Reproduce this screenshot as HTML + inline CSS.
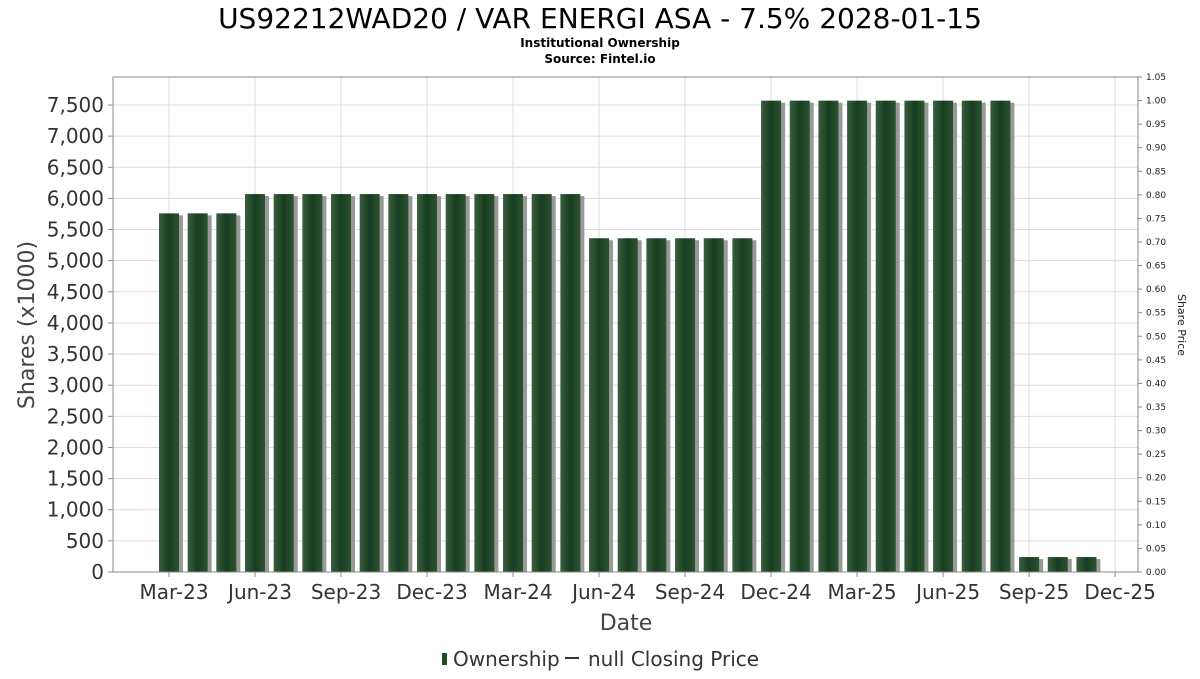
<!DOCTYPE html>
<html><head><meta charset="utf-8"><style>
body{margin:0;background:#fff;font-family:"DejaVu Sans","Liberation Sans",sans-serif}
</style></head><body>
<svg id="c" width="1200" height="675" xmlns="http://www.w3.org/2000/svg" font-family="DejaVu Sans, Liberation Sans, sans-serif">
<defs><linearGradient id="bg" x1="0" x2="1"><stop offset="0" stop-color="#3a5e3f"/><stop offset="0.5" stop-color="#163d1d"/><stop offset="1" stop-color="#2c5232"/></linearGradient></defs>
<text x="600" y="28" text-anchor="middle" font-size="28" fill="#000">US92212WAD20 / VAR ENERGI ASA - 7.5% 2028-01-15</text>
<text x="600" y="47" text-anchor="middle" font-size="12" font-weight="bold">Institutional Ownership</text>
<text x="600" y="63" text-anchor="middle" font-size="12" font-weight="bold">Source: Fintel.io</text>
<g id="grid"></g><g id="bars"></g><g id="axes"></g>
<text transform="translate(34,325) rotate(-90)" text-anchor="middle" font-size="22" fill="#444">Shares (x1000)</text>
<text transform="translate(1178,325) rotate(90)" text-anchor="middle" font-size="11" fill="#222">Share Price</text>
<text x="626" y="630" text-anchor="middle" font-size="22" fill="#444">Date</text>
<g>
<rect x="442" y="653" width="5" height="12" fill="#1e4a25"/>
<text x="453" y="666" font-size="20" fill="#333">Ownership</text>
<line x1="565" y1="658" x2="579" y2="658" stroke="#333" stroke-width="2"/>
<text x="588" y="666" font-size="20" fill="#333">null Closing Price</text>
</g>
</svg>
<script>
const monthIdx=[0,1,2,3,4,5,6,7,8,9,10,11,12,13,14,15,16,17,18,19,20,21,22,23,24,25,26,27,28,29,30,31,32];
const shares=[5760,5760,5760,6070,6070,6070,6070,6070,6070,6070,6070,6070,6070,6070,6070,5360,5360,5360,5360,5360,5360,7570,7570,7570,7570,7570,7570,7570,7570,7570,240,240,240];
const xTickLabels=["Mar-23","Jun-23","Sep-23","Dec-23","Mar-24","Jun-24","Sep-24","Dec-24","Mar-25","Jun-25","Sep-25","Dec-25"];
const yTicks=[0,500,1000,1500,2000,2500,3000,3500,4000,4500,5000,5500,6000,6500,7000,7500];
const rTicks=[0,0.05,0.1,0.15,0.2,0.25,0.3,0.35,0.4,0.45,0.5,0.55,0.6,0.65,0.7,0.75,0.8,0.85,0.9,0.95,1.0,1.05];
const L=113,R=1138,T=77,B=572,yMax=7950;
const x=m=>169+m*28.67, y=v=>B-(v/yMax)*(B-T), yr=p=>B-(p/1.05)*(B-T);
const NS="http://www.w3.org/2000/svg";
function mk(t,a,p){const e=document.createElementNS(NS,t);for(const k in a)e.setAttribute(k,a[k]);p.appendChild(e);return e;}
const g=document.getElementById('grid'),b=document.getElementById('bars'),ax=document.getElementById('axes');
yTicks.forEach(v=>{const l=mk('line',{x1:L,x2:R,y1:y(v),y2:y(v),stroke:'#ddd'},g);


mk('line',{x1:L-5,x2:L,y1:y(v),y2:y(v),stroke:'#888'},ax);
const t=mk('text',{x:L-9,y:y(v)+7,'text-anchor':'end','font-size':20,fill:'#333'},ax);t.textContent=v.toLocaleString('en-US');

});
xTickLabels.forEach((s,i)=>{const xx=x(i*3);const l=mk('line',{x1:xx,x2:xx,y1:T,y2:B,stroke:'#ddd'},g);


mk('line',{x1:xx,x2:xx,y1:B,y2:B+5,stroke:'#888'},ax);
const t=mk('text',{x:xx+5,y:599,'text-anchor':'middle','font-size':20,fill:'#333'},ax);t.textContent=s;

});
rTicks.forEach(p=>{mk('line',{x1:R,x2:R+4,y1:yr(p),y2:yr(p),stroke:'#888'},ax);
const t=mk('text',{x:R+8,y:yr(p)+3,'font-size':9,fill:'#222'},ax);t.textContent=p.toFixed(2);

});
shares.forEach((v,i)=>{const xx=x(monthIdx[i]);
mk('rect',{x:xx-10+4,y:y(v)+2,width:20,height:B-y(v)-2,fill:'#999'},b);
const r=mk('rect',{x:xx-10,y:y(v),width:20,height:B-y(v),fill:'url(#bg)'},b);

});
mk('path',{d:`M${L} ${T}H${R}V${B}H${L}Z`,fill:'none',stroke:'#888'},ax);
</script>
</body></html>
